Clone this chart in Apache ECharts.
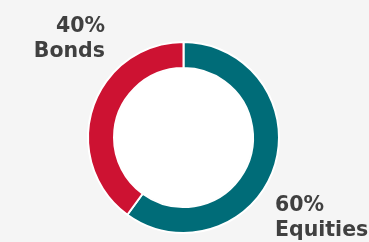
<!DOCTYPE html>
<html><head><meta charset="utf-8">
<script src="https://cdn.jsdelivr.net/npm/echarts@6/dist/echarts.min.js"></script>
<style>html,body{margin:0;padding:0;background:#f5f5f5}#c{width:369px;height:242px}</style>
</head><body><div id="c"></div>
<script>
const categories = ['Equities', 'Bonds'];
const values = [60, 40];
const colors = ['#006c78', '#cd1232'];

const chart = echarts.init(document.getElementById('c'));
chart.setOption({
  backgroundColor: '#f5f5f5',
  animation: false,
  graphic: [{
    type: 'circle',
    shape: { cx: 183.5, cy: 137.5, r: 69 },
    style: { fill: '#ffffff' },
    silent: true,
    z: -1
  }],
  series: [{
    type: 'pie',
    center: [183.5, 137.5],
    radius: [69.5, 95.5],
    startAngle: 90,
    clockwise: true,
    data: categories.map((c, i) => ({ name: c, value: values[i], itemStyle: { color: colors[i] } })),
    itemStyle: { borderColor: '#ffffff', borderWidth: 2 },
    label: {
      show: true,
      position: 'outside',
      formatter: '{d}%\n{b}',
      fontFamily: 'DejaVu Sans',
      fontWeight: 'bold',
      fontSize: 20.5,
      lineHeight: 25,
      color: '#404040',
      overflow: 'none',
      width: 200
    },
    labelLine: { show: false },
    labelLayout: function (p) {
      if (p.dataIndex === 0) return { x: 275, y: 218, align: 'left', verticalAlign: 'middle' };
      return { x: 105, y: 39, align: 'right', verticalAlign: 'middle' };
    },
    emphasis: { disabled: true }
  }]
});
</script></body></html>
